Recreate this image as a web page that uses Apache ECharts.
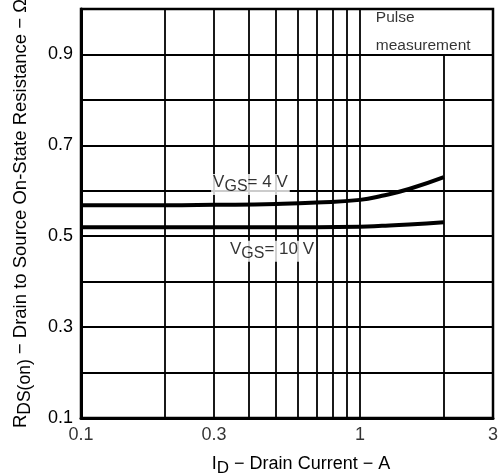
<!DOCTYPE html>
<html>
<head>
<meta charset="utf-8">
<script src="https://cdn.jsdelivr.net/npm/echarts@6/dist/echarts.min.js"></script>
<style>html,body{margin:0;padding:0;background:#fff}#c{width:500px;height:474px}</style>
</head>
<body>
<div id="c"></div>
<script>
// Drain current (A)
const currents = [0.1, 0.2, 0.3, 0.5, 0.7, 1.0, 1.2, 1.5, 2.0];
// RDS(on) for VGS = 4 V
const rds4V = [0.568, 0.568, 0.569, 0.571, 0.574, 0.580, 0.589, 0.604, 0.630];
// RDS(on) for VGS = 10 V
const rds10V = [0.520, 0.520, 0.520, 0.520, 0.520, 0.521, 0.523, 0.526, 0.531];
// axis tick labels
const xTickLabels = [0.1, 0.3, 1, 3];
const yTickLabels = ['0.1', '0.3', '0.5', '0.7', '0.9'];
// minor (log) grid lines on x
const xGridFull = [0.2, 0.3, 0.4, 0.5, 0.6, 0.7, 0.8, 0.9, 1];
const xGridPartial = [2]; // stops at 0.9 below the "Pulse measurement" note
const yMin = 0.1, yMax = 1.0, yNoteTop = 0.9;

const FONT = 'Liberation Sans';
const chart = echarts.init(document.getElementById('c'), null, {renderer: 'canvas'});

const gridLineStyle = {color: '#000', width: 1.8, type: 'solid'};
const markData = [];
xGridFull.forEach(v => markData.push([{coord: [v, yMin]}, {coord: [v, yMax]}]));
xGridPartial.forEach(v => markData.push([{coord: [v, yMin]}, {coord: [v, yNoteTop]}]));

function subRich(size, sub, lh) {
  return {
    n: {fontSize: size, fontFamily: FONT, color: '#000', verticalAlign: 'top', lineHeight: lh},
    s: {fontSize: sub, fontFamily: FONT, color: '#000', verticalAlign: 'bottom', lineHeight: lh, padding: [6, 0, 0, 0]}
  };
}

chart.setOption({
  animation: false,
  grid: {left: 81, right: 7, top: 9, bottom: 56, containLabel: false, outerBoundsMode: 'none',
    show: true, borderColor: '#000', borderWidth: 2.5, backgroundColor: 'transparent'},
  xAxis: {
    type: 'log', logBase: 10, min: 0.1, max: 3,
    axisLine: {show: true, lineStyle: {color: '#000', width: 3}},
    axisTick: {show: false},
    axisLabel: {show: false},
    splitLine: {show: false},
    minorTick: {show: false}, minorSplitLine: {show: false},
    name: '{n|I}{s|D}{n| − Drain Current − A}',
    nameLocation: 'middle', nameGap: 37,
    nameTextStyle: {rich: subRich(18, 17, 22), padding: [0, 0, 0, 28]}
  },
  yAxis: {
    type: 'value', min: yMin, max: yMax, interval: 0.1,
    axisLine: {show: true, lineStyle: {color: '#000', width: 3}},
    axisTick: {show: false},
    axisLabel: {
      fontFamily: FONT, fontSize: 18, color: '#000', margin: 8,
      formatter: v => { const s = (Math.round(v * 10) / 10).toFixed(1); return yTickLabels.includes(s) ? s : ''; }
    },
    splitLine: {show: true, lineStyle: gridLineStyle},
    name: '{n|R}{s|DS(on)}{n| − Drain to Source On-State Resistance − Ω}',
    nameLocation: 'middle', nameGap: 47,
    nameTextStyle: {rich: subRich(18.5, 17.5, 23), padding: [0, 0, 0, 0]}
  },
  series: [
    {
      name: 'grid', type: 'line', data: [], z: 1, silent: true,
      markLine: {silent: true, symbol: 'none', animation: false, label: {show: false}, lineStyle: gridLineStyle, data: markData}
    },
    {
      name: 'VGS=4V', type: 'line', smooth: true, showSymbol: false, z: 3,
      lineStyle: {color: '#000', width: 4},
      data: currents.map((x, i) => [x, rds4V[i]])
    },
    {
      name: 'VGS=10V', type: 'line', smooth: true, showSymbol: false, z: 3,
      lineStyle: {color: '#000', width: 4},
      data: currents.map((x, i) => [x, rds10V[i]])
    },
    {
      name: 'xticks', type: 'scatter', symbolSize: 0, clip: false, z: 4, silent: true,
      data: xTickLabels.map(v => [v, yMin]),
      label: {show: true, position: 'bottom', distance: 8, fontFamily: FONT, fontSize: 18, color: '#000',
        formatter: p => String(p.value[0])}
    },
    {
      name: 'labels', type: 'scatter', symbolSize: 0, clip: false, z: 5, silent: true,
      data: [
        {value: [0.405, 0.614], label: {formatter: '{n|V}{s|GS}{n|= 4 V}'}},
        {value: [0.484, 0.467], label: {formatter: '{n|V}{s|GS}{n|= 10 V}'}}
      ],
      label: {show: true, position: 'inside', color: '#000', textBorderWidth: 0, backgroundColor: '#fff', padding: [0, 2, 0, 2], rich: subRich(17, 16, 21)}
    },
    {
      name: 'note', type: 'scatter', symbolSize: 0, clip: false, z: 5, silent: true,
      data: [[1.14, 0.95]],
      label: {show: true, position: 'right', distance: 0, align: 'left', fontFamily: FONT, fontSize: 15.5, lineHeight: 28, color: '#000',
        formatter: 'Pulse\nmeasurement'}
    }
  ]
});
</script>
</body>
</html>
